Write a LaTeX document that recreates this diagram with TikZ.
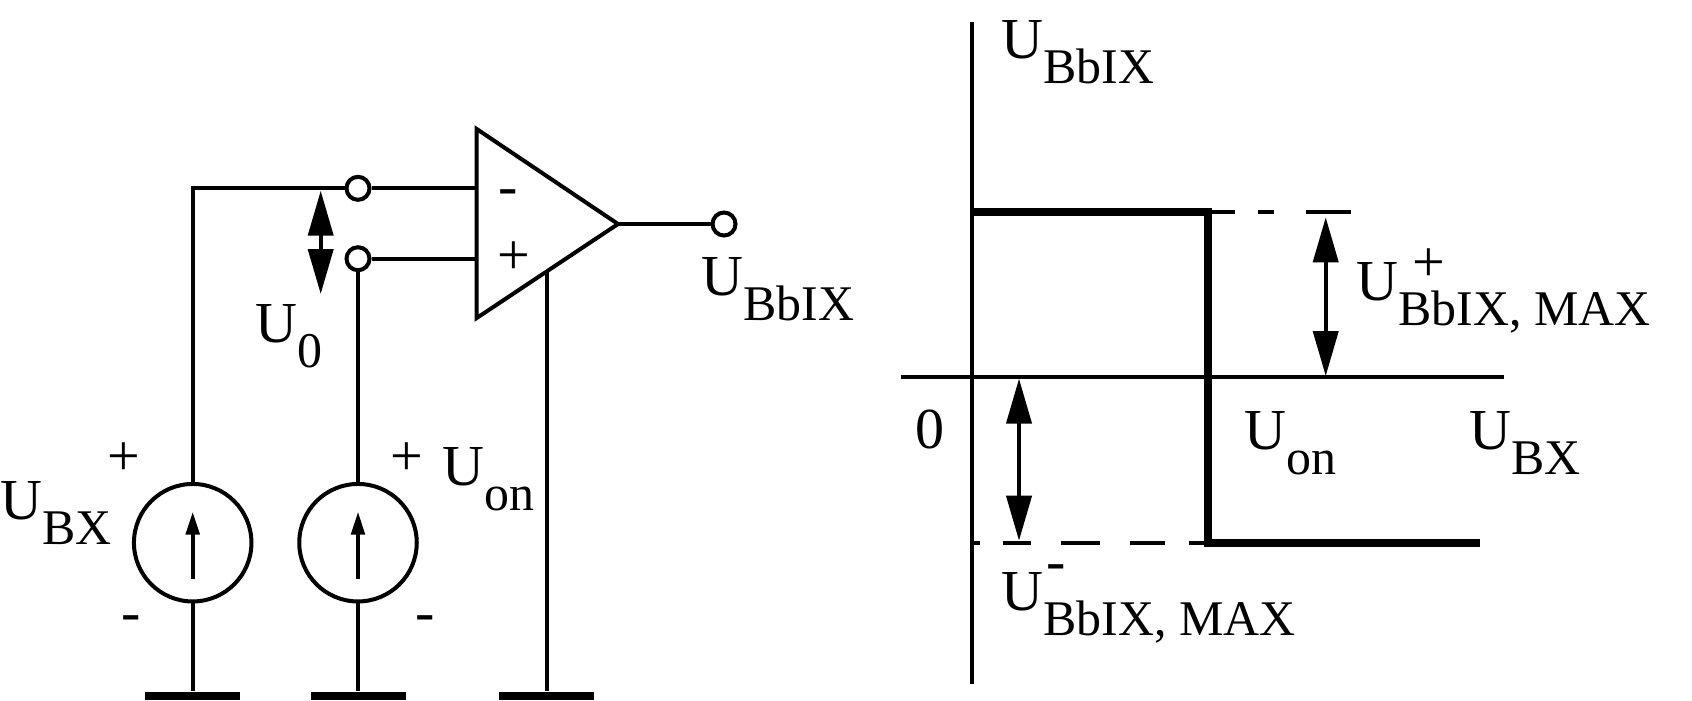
\documentclass[tikz,border=0pt]{standalone}
\usepackage{fontspec}
\setmainfont{Liberation Serif}
\usetikzlibrary{arrows.meta}

\newcommand{\subsize}{\fontsize{14.2}{15}\selectfont}
\newcommand{\usub}[1]{U\raisebox{-.25cm}{\subsize #1}}

\tikzset{
  wire/.style={line width=1.14pt},
  thickwire/.style={line width=2.28pt},
  dblarrow/.style={wire,{Triangle[length=.45cm,width=.25cm]}-{Triangle[length=.45cm,width=.25cm]}},
  srcarrow/.style={wire,-{Triangle[length=.23cm,width=.135cm]}}
}

\begin{document}
\begin{tikzpicture}[font=\fontsize{16.5}{18}\selectfont]
        \useasboundingbox (0,0) rectangle (16.92,7);

        \begin{scope}[every node/.style={circle,draw,wire,fill=white,inner sep=0pt,minimum size=.23cm}]
          \node (inv) at (3.58,5.117) {};
          \node (non) at (3.58,4.413) {};
          \node (out) at (7.24,4.76) {};
        \end{scope}

        \begin{scope}[every node/.style={circle,draw,wire,inner sep=0pt,minimum size=1.175cm}]
          \node (srcx) at (1.927,1.573) {};
          \node (srcon) at (3.58,1.573) {};
        \end{scope}

        \begin{scope}[every node/.style={fill=black,inner sep=0pt,minimum width=.95cm,minimum height=.08cm}]
          \node (gndx) at (1.927,.04) {};
          \node (gndon) at (3.58,.04) {};
          \node (gndamp) at (5.467,.04) {};
        \end{scope}

        \coordinate (ampa) at (4.767,5.71);
        \coordinate (ampb) at (4.767,3.82);
        \coordinate (ampc) at (6.18,4.76);
        \coordinate (ampm) at (4.767,5.117);
        \coordinate (ampp) at (4.767,4.413);
        \coordinate (ampg) at (5.467,4.286);
        \coordinate (ua) at (3.207,5.093);
        \coordinate (ub) at (3.207,4.06);
        \coordinate (sxa) at (1.927,1.21);
        \coordinate (sxb) at (1.927,1.883);
        \coordinate (soa) at (3.58,1.21);
        \coordinate (sob) at (3.58,1.883);

        \coordinate (ya) at (9.723,6.78);
        \coordinate (yb) at (9.723,.16);
        \coordinate (xa) at (9.01,3.233);
        \coordinate (xb) at (15.04,3.233);
        \coordinate (ta) at (9.723,4.88);
        \coordinate (tb) at (12.08,4.88);
        \coordinate (tc) at (12.08,1.573);
        \coordinate (td) at (14.80,1.573);
        \coordinate (da) at (12.12,4.88);
        \coordinate (db) at (13.51,4.88);
        \coordinate (dc) at (9.74,1.573);
        \coordinate (dd) at (12.04,1.573);
        \coordinate (pa) at (13.257,4.827);
        \coordinate (pb) at (13.257,3.24);
        \coordinate (qa) at (10.19,3.214);
        \coordinate (qb) at (10.19,1.593);

        \draw[wire,line join=miter] (ampa) -- (ampb) -- (ampc) -- cycle;
        \draw[wire] (srcx) |- (inv);
        \draw[wire] (inv) -- (ampm);
        \draw[wire] (non) -- (ampp);
        \draw[wire] (non) -- (srcon);
        \draw[wire] (ampc) -- (out);
        \draw[wire] (ampg) -- (gndamp);
        \draw[wire] (srcx) -- (gndx);
        \draw[wire] (srcon) -- (gndon);
        \draw[dblarrow] (ua) -- (ub);
        \draw[srcarrow] (sxa) -- (sxb);
        \draw[srcarrow] (soa) -- (sob);

        \draw[wire] (ya) -- (yb);
        \draw[wire] (xa) -- (xb);
        \draw[thickwire,line join=miter] (ta) -- (tb) -- (tc) -- (td);
        \draw[wire,dash pattern=on .23cm off .23cm on .16cm off .32cm on .45cm] (da) -- (db);
        \draw[wire,dash pattern=on .06cm off .23cm on .28cm off .30cm on .39cm off .30cm on .35cm off .24cm on .15cm] (dc) -- (dd);
        \draw[dblarrow] (pa) -- (pb);
        \draw[dblarrow] (qa) -- (qb);

        \begin{scope}[every node/.style={anchor=base west,inner sep=0pt}]
          \node (lout) at (7.01,4.05) {\usub{BbIX}};
          \node (lzero) at (2.55,3.58) {\usub{0}};
          \node (lon) at (4.417,2.15) {\usub{on}};
          \node (lx) at (0,1.807) {\usub{BX}};
          \node (ly) at (10.006,6.42) {\usub{BbIX}};
          \node (lmax) at (13.56,3.993) {\usub{BbIX, MAX}};
          \node (lmin) at (10.01,.90) {\usub{BbIX, MAX}};
          \node (lnull) at (9.145,2.52) {0};
          \node (lon2) at (12.44,2.51) {\usub{on}};
          \node (lx2) at (14.69,2.51) {\usub{BX}};
        \end{scope}

        \begin{scope}[every node/.style={inner sep=0pt}]
          \node (sxp) at (1.24,2.405) {+};
          \node (sop) at (4.07,2.405) {+};
          \node (ampplus) at (5.14,4.415) {+};
          \node (lmaxp) at (14.29,4.348) {+};
        \end{scope}

        \begin{scope}[every node/.style={anchor=base,inner sep=0pt}]
          \node (sxm) at (1.307,.688) {-};
          \node (som) at (4.253,.688) {-};
          \node (ampminus) at (5.08,4.95) {-};
          \node (lminm) at (10.564,1.20) {-};
        \end{scope}

      \end{tikzpicture}
\end{document}
